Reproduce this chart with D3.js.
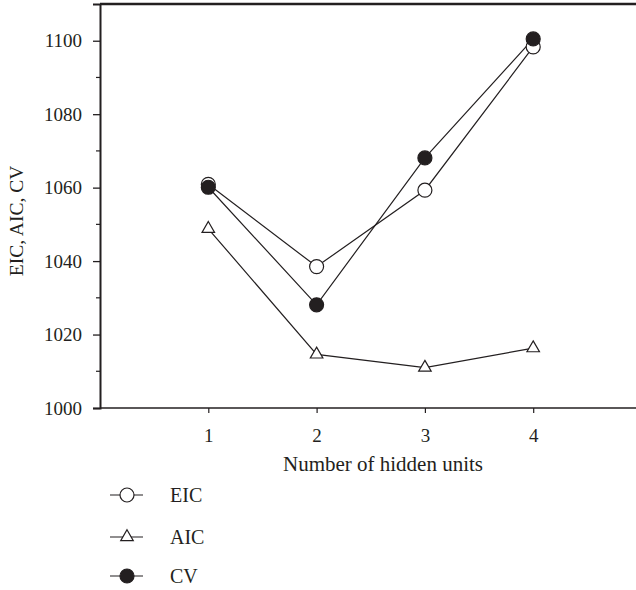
<!DOCTYPE html>
<html>
<head>
<meta charset="utf-8">
<script src="https://cdn.jsdelivr.net/npm/d3@7"></script>
<style>
  body { margin: 0; background: #fff; }
  svg text { font-family: "Liberation Serif", "DejaVu Serif", serif !important; fill: #231f20; }
</style>
</head>
<body>
<div id="chart"></div>
<script>
// values
const units = [1, 2, 3, 4];
const eic = [1060.9, 1038.5, 1059.3, 1098.3];
const aic = [1048.8, 1014.6, 1011.0, 1016.3];
const cv  = [1060.1, 1028.1, 1068.1, 1100.5];
const yTicks = [1000, 1020, 1040, 1060, 1080, 1100];
const yMinor = [1010, 1030, 1050, 1070, 1090];
const seriesNames = ["EIC", "AIC", "CV"];

const W = 636, H = 590;
const margin = {top: 4, left: 100, bottom: 408};
const ink = "#231f20";
const serif = '"Liberation Serif", "DejaVu Serif", serif';

const svg = d3.select("#chart").append("svg")
    .attr("width", W).attr("height", H);

const x = d3.scaleLinear().domain([0, 5]).range([margin.left, 641.5]);
const y = d3.scaleLinear().domain([1000, 1110]).range([margin.bottom, margin.top]);

// top frame line
svg.append("line").attr("x1", x(0)).attr("x2", W).attr("y1", y(1110)).attr("y2", y(1110))
   .attr("stroke", ink).attr("stroke-width", 2.4);

// y axis
const yAxis = svg.append("g").attr("transform", "translate(" + x(0) + ",0)")
   .call(d3.axisLeft(y).tickValues(yTicks).tickSize(7).tickPadding(11).tickFormat(d3.format("d")));
yAxis.attr("font-family", serif);
yAxis.select(".domain").attr("stroke", ink).attr("stroke-width", 2);
yAxis.selectAll(".tick line").attr("stroke", ink).attr("stroke-width", 1.3);
yAxis.selectAll("text").style("font-size", "19px").style("font-family", serif).attr("fill", ink);
svg.append("g").selectAll("line").data(yMinor).join("line")
   .attr("x1", x(0) - 4).attr("x2", x(0)).attr("y1", d => y(d)).attr("y2", d => y(d))
   .attr("stroke", ink).attr("stroke-width", 1.2);

// x axis
const xAxis = svg.append("g").attr("transform", "translate(0," + y(1000) + ")")
   .call(d3.axisBottom(x).tickValues(units).tickSize(5).tickFormat(d3.format("d")));
xAxis.attr("font-family", serif);
xAxis.select(".domain").attr("stroke", ink).attr("stroke-width", 1.5)
   .attr("d", "M" + x(0) + ",0H" + W);
xAxis.selectAll(".tick line").attr("stroke", ink).attr("stroke-width", 1.2);
xAxis.selectAll("text").style("font-size", "19px").style("font-family", serif).attr("fill", ink)
   .attr("y", 34).attr("dy", null);

svg.append("text").attr("x", 383).attr("y", 471).attr("text-anchor", "middle")
   .style("font-family", serif).style("font-size", "21px").text("Number of hidden units");
svg.append("text").attr("transform", "translate(23,221) rotate(-90)").attr("text-anchor", "middle")
   .style("font-family", serif).style("font-size", "19.5px").text("EIC, AIC, CV");

const line = d3.line().x((d, i) => x(units[i])).y(d => y(d));
const tri = d3.symbol().type(d3.symbolTriangle).size(68);

function drawMarker(g, kind) {
  if (kind === "AIC") {
    g.append("path").attr("d", tri)
     .attr("fill", "#fff").attr("stroke", ink).attr("stroke-width", 1.2);
  } else {
    g.append("circle").attr("r", 7)
     .attr("fill", kind === "CV" ? ink : "#fff").attr("stroke", ink).attr("stroke-width", 1.2);
  }
}

const data = {EIC: eic, AIC: aic, CV: cv};
// lines first, then markers (CV last so it sits on top)
seriesNames.forEach(name => {
  svg.append("path").attr("d", line(data[name])).attr("fill", "none")
     .attr("stroke", ink).attr("stroke-width", 1.2);
});
seriesNames.forEach(name => {
  data[name].forEach((v, i) => {
    const g = svg.append("g").attr("transform", "translate(" + x(units[i]) + "," + y(v) + ")");
    drawMarker(g, name);
  });
});

// legend
const legY = [495, 537, 576];
seriesNames.forEach((name, i) => {
  const g = svg.append("g").attr("transform", "translate(127," + legY[i] + ")");
  g.append("line").attr("x1", -17).attr("x2", 16).attr("stroke", ink).attr("stroke-width", 1.2);
  drawMarker(g, name);
  svg.append("text").attr("x", 170).attr("y", legY[i] + 7)
     .style("font-family", serif).style("font-size", "20px").text(name);
});
</script>
</body>
</html>
